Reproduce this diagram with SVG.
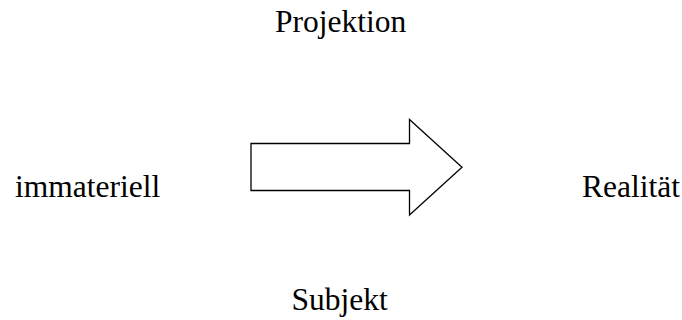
<svg xmlns="http://www.w3.org/2000/svg" width="682" height="320" viewBox="0 0 682 320">
  <style>
    .lbl { font-family: "Liberation Serif", "Times New Roman", serif; font-size: 31.5px; fill: #000; }
    .block { fill: #fff; stroke: #000; stroke-width: 1.3; stroke-linejoin: miter; }
  </style>
  <rect width="682" height="320" fill="#fff"/>
  <g id="projektion"><text class="lbl" x="275" y="32">Projektion</text></g>
  <g id="immateriell"><text class="lbl" x="15" y="197">immateriell</text></g>
  <g id="realitaet"><text class="lbl" x="582" y="197">Realität</text></g>
  <g id="subjekt"><text class="lbl" x="291.5" y="310">Subjekt</text></g>
  <g id="connectors">
    <polygon class="block" points="251,143.5 409.5,143.5 409.5,119.5 462,167.3 409.5,215 409.5,190.5 251,190.5"/>
  </g>
</svg>
